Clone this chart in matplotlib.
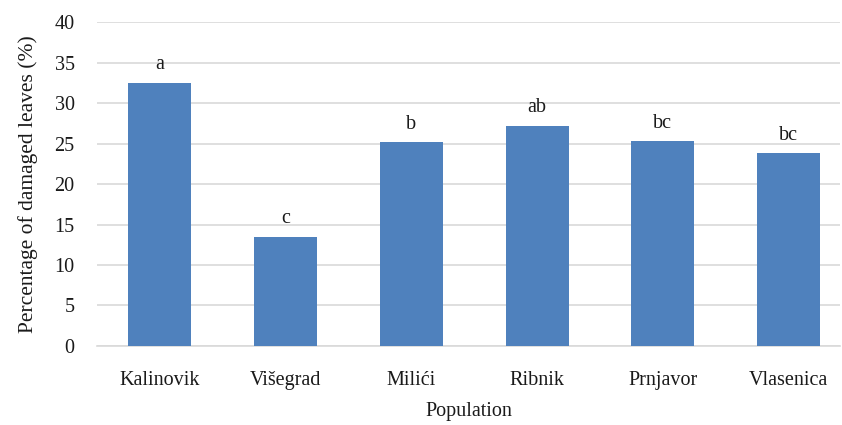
import matplotlib.pyplot as plt
import numpy as np

# Data
populations = ['Kalinovik', 'Višegrad', 'Milići', 'Ribnik', 'Prnjavor', 'Vlasenica']
damaged = [32.5, 13.5, 25.2, 27.2, 25.3, 23.8]
letters = ['a', 'c', 'b', 'ab', 'bc', 'bc']

plt.rcParams['font.family'] = ['Liberation Serif', 'DejaVu Serif']

fig = plt.figure(figsize=(8.42, 4.25), dpi=100)
ax = fig.add_axes([0.115, 0.186, 0.883, 0.762])

x = np.arange(len(populations))
bars = ax.bar(x, damaged, width=0.5, color='#4f81bd', zorder=3)

for xi, v, lab in zip(x, damaged, letters):
    ax.annotate(lab, (xi, v), xytext=(0, 6), textcoords='offset points',
                ha='center', va='bottom', fontsize=14.5, color='#1a1a1a')

ax.set_ylim(0, 40)
ax.set_yticks(range(0, 45, 5))
ax.set_xlim(-0.5, 5.41)
ax.set_xticks(x)
ax.set_xticklabels(populations)
ax.yaxis.grid(True, color='#d9d9d9', linewidth=1.2, zorder=0)
for s in ['top', 'right', 'left']:
    ax.spines[s].set_visible(False)
ax.spines['bottom'].set_color('#d9d9d9')
ax.spines['bottom'].set_linewidth(1.2)
ax.tick_params(axis='both', length=0, labelsize=14.5, colors='#1a1a1a')
ax.tick_params(axis='x', pad=18)
ax.tick_params(axis='y', pad=16)

ax.set_xlabel('Population', fontsize=14.5, labelpad=9, color='#1a1a1a')
ax.set_ylabel('Percentage of damaged leaves (%)', fontsize=15.5, labelpad=12, color='#1a1a1a')

plt.savefig('out.png', dpi=100)
plt.close()
